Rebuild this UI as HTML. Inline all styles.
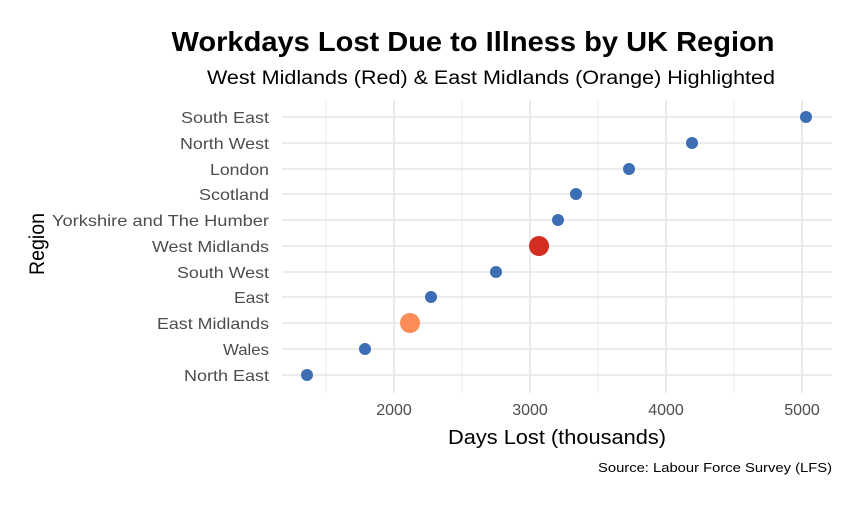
<!DOCTYPE html>
<html><head><style>body{margin:0;background:#fff}</style></head><body>
<svg width="858" height="502" xmlns="http://www.w3.org/2000/svg" font-family="Liberation Sans, sans-serif">
<rect width="858" height="502" fill="#fff"/>
<g stroke="#ebebeb" stroke-width="1">
<line x1="326" y1="100" x2="326" y2="393"/><line x1="462" y1="100" x2="462" y2="393"/><line x1="598" y1="100" x2="598" y2="393"/><line x1="734" y1="100" x2="734" y2="393"/>
</g>
<g stroke="#e6e6e6" stroke-width="1.6">
<line x1="394" y1="100" x2="394" y2="393"/><line x1="530" y1="100" x2="530" y2="393"/><line x1="666" y1="100" x2="666" y2="393"/><line x1="802" y1="100" x2="802" y2="393"/>
<line x1="282" y1="117" x2="832" y2="117"/><line x1="282" y1="143" x2="832" y2="143"/><line x1="282" y1="169" x2="832" y2="169"/><line x1="282" y1="194" x2="832" y2="194"/><line x1="282" y1="220" x2="832" y2="220"/><line x1="282" y1="246" x2="832" y2="246"/><line x1="282" y1="272" x2="832" y2="272"/><line x1="282" y1="297" x2="832" y2="297"/><line x1="282" y1="323" x2="832" y2="323"/><line x1="282" y1="349" x2="832" y2="349"/><line x1="282" y1="375" x2="832" y2="375"/>
</g>
<g fill="#3d6db2">
<circle cx="806" cy="117" r="6"/><circle cx="692" cy="143" r="6"/><circle cx="629" cy="169" r="6"/><circle cx="576" cy="194" r="6"/><circle cx="558" cy="220" r="6"/><circle cx="496" cy="272" r="6"/><circle cx="431" cy="297" r="6"/><circle cx="365" cy="349" r="6"/><circle cx="307" cy="375" r="6"/>
</g>
<circle cx="539" cy="246" r="10" fill="#d42e22"/>
<circle cx="410" cy="323" r="10" fill="#fc8d59"/>
<g font-size="16" fill="#4d4d4d" text-anchor="end" lengthAdjust="spacingAndGlyphs">
<text x="269" y="123" textLength="88" lengthAdjust="spacingAndGlyphs">South East</text>
<text x="269" y="149" textLength="89" lengthAdjust="spacingAndGlyphs">North West</text>
<text x="269" y="175" textLength="59" lengthAdjust="spacingAndGlyphs">London</text>
<text x="269" y="200" textLength="70" lengthAdjust="spacingAndGlyphs">Scotland</text>
<text x="269" y="226" textLength="217" lengthAdjust="spacingAndGlyphs">Yorkshire and The Humber</text>
<text x="269" y="252" textLength="117" lengthAdjust="spacingAndGlyphs">West Midlands</text>
<text x="269" y="278" textLength="92" lengthAdjust="spacingAndGlyphs">South West</text>
<text x="269" y="303" textLength="35" lengthAdjust="spacingAndGlyphs">East</text>
<text x="269" y="329" textLength="112" lengthAdjust="spacingAndGlyphs">East Midlands</text>
<text x="269" y="355" textLength="46" lengthAdjust="spacingAndGlyphs">Wales</text>
<text x="269" y="381" textLength="85" lengthAdjust="spacingAndGlyphs">North East</text>
</g>
<g font-size="16" fill="#4d4d4d" text-anchor="middle">
<text x="394" y="415">2000</text><text x="530" y="415">3000</text><text x="666" y="415">4000</text><text x="802" y="415">5000</text>
</g>
<text x="557" y="444" font-size="20" text-anchor="middle" fill="#000" textLength="218" lengthAdjust="spacingAndGlyphs">Days Lost (thousands)</text>
<text transform="translate(44,244) rotate(-90)" font-size="21" text-anchor="middle" fill="#000" textLength="62" lengthAdjust="spacingAndGlyphs">Region</text>
<text x="473" y="51" font-size="28" font-weight="bold" text-anchor="middle" fill="#000" textLength="603" lengthAdjust="spacingAndGlyphs">Workdays Lost Due to Illness by UK Region</text>
<text x="491" y="84" font-size="19" text-anchor="middle" fill="#000" textLength="568" lengthAdjust="spacingAndGlyphs">West Midlands (Red) &amp; East Midlands (Orange) Highlighted</text>
<text x="832" y="472" font-size="13" text-anchor="end" fill="#000" textLength="234" lengthAdjust="spacingAndGlyphs">Source: Labour Force Survey (LFS)</text>
</svg>
</body></html>
